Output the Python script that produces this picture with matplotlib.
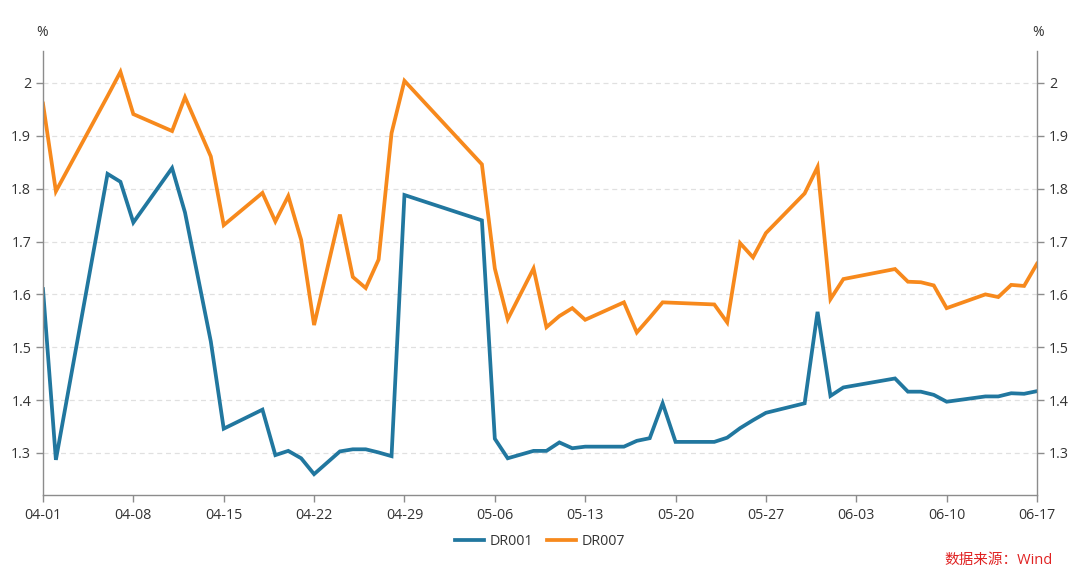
import matplotlib
matplotlib.use("Agg")
import matplotlib.pyplot as plt
import matplotlib.dates as mdates
import pandas as pd

plt.rcParams['font.family'] = ['Open Sans', 'DejaVu Sans']

# trading dates (2024) and rates
dates = ['04-01', '04-02', '04-06', '04-07', '04-08', '04-11', '04-12', '04-14',
         '04-15', '04-18', '04-19', '04-20', '04-21', '04-22', '04-24', '04-25',
         '04-26', '04-27', '04-28', '04-29', '05-05', '05-06', '05-07', '05-09',
         '05-10', '05-11', '05-12', '05-13', '05-16', '05-17', '05-18', '05-19',
         '05-20', '05-23', '05-24', '05-25', '05-26', '05-27', '05-30', '05-31',
         '06-01', '06-02', '06-06', '06-07', '06-08', '06-09', '06-10', '06-13',
         '06-14', '06-15', '06-16', '06-17']
dr001 = [1.610, 1.287, 1.828, 1.813, 1.736, 1.839, 1.755, 1.511,
         1.346, 1.382, 1.296, 1.304, 1.290, 1.260, 1.303, 1.307,
         1.307, 1.301, 1.294, 1.788, 1.740, 1.327, 1.290, 1.304,
         1.304, 1.320, 1.309, 1.312, 1.312, 1.323, 1.328, 1.394,
         1.321, 1.321, 1.329, 1.347, 1.362, 1.376, 1.394, 1.567,
         1.408, 1.424, 1.441, 1.416, 1.416, 1.410, 1.397, 1.407,
         1.407, 1.413, 1.412, 1.417]
dr007 = [1.961, 1.795, 1.975, 2.021, 1.941, 1.909, 1.973, 1.861,
         1.731, 1.792, 1.738, 1.786, 1.703, 1.542, 1.751, 1.633,
         1.612, 1.666, 1.905, 2.004, 1.846, 1.649, 1.553, 1.649,
         1.538, 1.559, 1.574, 1.552, 1.585, 1.528, 1.556, 1.585,
         1.584, 1.581, 1.547, 1.697, 1.670, 1.716, 1.791, 1.841,
         1.591, 1.629, 1.648, 1.624, 1.623, 1.617, 1.574, 1.600,
         1.595, 1.618, 1.616, 1.658]
yticks = [1.3, 1.4, 1.5, 1.6, 1.7, 1.8, 1.9, 2.0]
ytick_labels = ['1.3', '1.4', '1.5', '1.6', '1.7', '1.8', '1.9', '2']

x = pd.to_datetime(['2024-' + d for d in dates])
blue = '#21779f'
orange = '#f7891c'
txt = '#333333'
axcol = '#8c8c8c'

fig = plt.figure(figsize=(10.8, 5.78), dpi=100)
ax = fig.add_axes([0.0398, 0.1431, 0.9204, 0.7692])

ax.plot(x, dr001, color=blue, lw=2.7, label='DR001', solid_joinstyle='miter')
ax.plot(x, dr007, color=orange, lw=2.7, label='DR007', solid_joinstyle='miter')

ax.set_xlim(pd.Timestamp('2024-04-01'), pd.Timestamp('2024-06-17'))
ax.set_ylim(1.22, 2.061)
ax.set_xticks(pd.date_range('2024-04-01', '2024-06-17', freq='7D'))
ax.xaxis.set_major_formatter(mdates.DateFormatter('%m-%d'))
ax.set_yticks(yticks)
ax.set_yticklabels(ytick_labels)
ax.grid(axis='y', color='#e0e0e0', linestyle=(0, (4, 3)), linewidth=0.9)

ax2 = ax.twinx()
ax2.set_ylim(ax.get_ylim())
ax2.set_yticks(yticks)
ax2.set_yticklabels(ytick_labels)

for a in (ax, ax2):
    a.spines['top'].set_visible(False)
    for s in ('left', 'right', 'bottom'):
        a.spines[s].set_color(axcol)
        a.spines[s].set_linewidth(1.0)
    a.tick_params(colors=axcol, labelcolor=txt, labelsize=10.3, length=5, width=1)
ax2.spines['left'].set_visible(False)
ax2.spines['bottom'].set_visible(False)
ax.spines['right'].set_visible(False)
ax.tick_params(axis='x', pad=4)

fig.text(0.039, 0.943, '%', ha='center', va='center', color=txt, fontsize=10)
fig.text(0.961, 0.943, '%', ha='center', va='center', color=txt, fontsize=10)

ax.legend(loc='center', bbox_to_anchor=(0.5, 0.0623), bbox_transform=fig.transFigure,
          ncol=2, frameon=False, fontsize=10.3, handlelength=2.0, handletextpad=0.4,
          columnspacing=1.0, labelcolor=txt)

fig.text(0.975, 0.03, '数据来源：Wind', ha='right', va='center', color='#e02222',
         fontsize=10.5, family=['Open Sans', 'Noto Sans CJK SC'])

fig.savefig('out.png', dpi=100)
